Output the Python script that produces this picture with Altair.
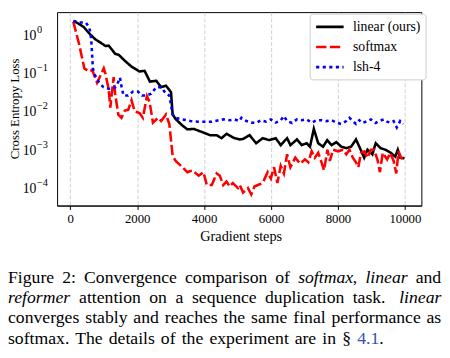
import altair as alt
import pandas as pd

LABELS = ["linear (ours)", "softmax", "lsh-4"]
COLORS = ["#000000", "#ff0000", "#0000ff"]
DASHES = [[1, 0], [10.5, 3.5], [3.2, 3.5]]

linear_steps = [100, 230, 400, 560, 750, 900, 1050, 1150, 1340, 1450, 1630, 1830, 2070, 2220,
                2380, 2570, 2715, 2860, 3010, 3060, 3150, 3350, 3500, 3690, 3935, 4180, 4375,
                4520, 4670, 4910, 5060, 5160, 5360, 5555, 5750, 5945, 6140, 6290, 6480, 6580,
                6775, 6920, 7065, 7165, 7280, 7410, 7555, 7680, 7810, 7955, 8100, 8250, 8395,
                8540, 8640, 8785, 8885, 9030, 9130, 9275, 9420, 9565, 9715, 9790, 9860, 9990]
linear_loss = [2.3, 2.0, 1.6, 1.1, 0.76, 0.63, 0.51, 0.52, 0.32, 0.30, 0.21, 0.148, 0.11, 0.115,
               0.06, 0.063, 0.043, 0.047, 0.032, 0.0083, 0.0063, 0.0043, 0.0034, 0.0035, 0.0029,
               0.0024, 0.0024, 0.0020, 0.0026, 0.0020, 0.00186, 0.0019, 0.0024, 0.00148, 0.0020,
               0.00178, 0.0020, 0.00132, 0.0020, 0.00132, 0.00186, 0.00132, 0.00148, 0.0012,
               0.0035, 0.00148, 0.0012, 0.00178, 0.00132, 0.00158, 0.0012, 0.0011, 0.0012,
               0.00186, 0.0012, 0.00062, 0.0010, 0.00076, 0.00148, 0.0011, 0.0010, 0.00085,
               0.00066, 0.0010, 0.00062, 0.0006]

softmax_steps = [90, 265, 420, 560, 655, 800, 1000, 1045, 1145, 1195, 1295, 1340, 1435, 1530,
                 1630, 1730, 1830, 1925, 2070, 2170, 2290, 2370, 2470, 2620, 2715, 2860, 2960,
                 3060, 3150, 3350, 3500, 3640, 3840, 3980, 4080, 4230, 4375, 4470, 4570, 4670,
                 4765, 4860, 5010, 5065, 5165, 5310, 5410, 5505, 5605, 5750, 5900, 5995, 6090,
                 6190, 6290, 6385, 6480, 6580, 6725, 6870, 7015, 7115, 7215, 7310, 7410, 7510,
                 7585, 7685, 7760, 7855, 8005, 8150, 8250, 8345, 8445, 8540, 8610, 8690, 8790,
                 8885, 8985, 9080, 9180, 9255, 9340, 9470, 9565, 9665, 9745, 9810, 9890, 9960]
softmax_loss = [2.2, 0.56, 0.133, 0.11, 0.12, 0.056, 0.133, 0.1, 0.039, 0.0126, 0.079, 0.029,
                0.0083, 0.0068, 0.0105, 0.011, 0.0195, 0.010, 0.0091, 0.0068, 0.025, 0.0178,
                0.0051, 0.0068, 0.0056, 0.0083, 0.0047, 0.00068, 0.00051, 0.00035, 0.00026,
                0.00029, 0.00021, 0.00026, 0.00012, 0.00012, 0.00024, 0.00021, 0.00012, 0.000148,
                0.00011, 0.000135, 0.0001, 0.00012, 0.000076, 0.0001, 0.000068, 0.00011, 0.00012,
                0.000135, 0.00026, 0.000178, 0.00035, 0.000135, 0.00038, 0.00024, 0.00076,
                0.00035, 0.00062, 0.00043, 0.00056, 0.00047, 0.00091, 0.00062, 0.00083, 0.00047,
                0.00029, 0.001, 0.00051, 0.001, 0.00091, 0.001, 0.00076, 0.001, 0.00062, 0.00047,
                0.00035, 0.00083, 0.00091, 0.00062, 0.001, 0.001, 0.00056, 0.00026, 0.00083,
                0.00056, 0.00083, 0.00051, 0.00024, 0.00091, 0.00062, 0.00056]

lsh_steps = [90, 265, 460, 560, 605, 635, 655, 675, 735, 800, 900, 995, 1145, 1290, 1385, 1485,
             1535, 1590, 1730, 1875, 2020, 2140, 2275, 2420, 2570, 2715, 2860, 2960, 3010, 3060,
             3150, 3350, 3590, 3840, 4230, 4570, 4765, 4910, 5060, 5115, 5265, 5410, 5555, 5700,
             5850, 5995, 6140, 6290, 6385, 6480, 6630, 6775, 6920, 7065, 7215, 7360, 7505, 7660,
             7810, 7955, 8100, 8250, 8345, 8445, 8540, 8640, 8735, 8885, 8985, 9130, 9225, 9375,
             9470, 9565, 9665, 9760, 9860, 9960]
lsh_loss = [2.3, 2.1, 2.1, 1.6, 1.1, 0.56, 0.26, 0.133, 0.091, 0.068, 0.051, 0.043, 0.039, 0.039,
            0.047, 0.076, 0.043, 0.026, 0.026, 0.033, 0.033, 0.026, 0.026, 0.029, 0.043, 0.043,
            0.029, 0.026, 0.0148, 0.0083, 0.0068, 0.0062, 0.0056, 0.0054, 0.0054, 0.0062, 0.0059,
            0.0062, 0.0056, 0.0068, 0.0056, 0.0051, 0.005, 0.0059, 0.0054, 0.0062, 0.0051, 0.0059,
            0.0076, 0.0056, 0.005, 0.0062, 0.0059, 0.0062, 0.0051, 0.0059, 0.0059, 0.0056, 0.0059,
            0.0051, 0.0047, 0.0056, 0.0068, 0.0056, 0.0047, 0.0059, 0.005, 0.0056, 0.0062, 0.005,
            0.0056, 0.0062, 0.0054, 0.0051, 0.0056, 0.0038, 0.0056, 0.0047]

x_ticks = [0, 2000, 4000, 6000, 8000, 10000]
X_DOMAIN = [-395, 10495]
Y_DOMAIN = [3.49e-5, 3.91]
y_ticks = [k * 10.0 ** e for e in range(-5, 1) for k in range(1, 10)]
y_ticks = [v for v in y_ticks if Y_DOMAIN[0] <= v <= Y_DOMAIN[1]]
y_label_values = [1.0, 0.1, 0.01, 0.001, 0.0001]
y_label_base = ["10", "10", "10", "10", "10"]
y_label_exp = ["0", "\u22121", "\u22122", "\u22123", "\u22124"]
Y_TITLE = "Cross Entropy Loss"
X_TITLE = "Gradient steps"

# caption: (line, text, x in reference pixels, italic?, colour)
caption = [
    (0, "Figure", 3.0, False, "black"), (0, "2:", 58.5, False, "black"),
    (0, "Convergence", 81.0, False, "black"), (0, "comparison", 184.5, False, "black"),
    (0, "of", 277.0, False, "black"), (0, "softmax", 300.5, True, "black"),
    (0, ",", 356.5, False, "black"), (0, "linear", 369.5, True, "black"),
    (0, "and", 421.0, False, "black"),
    (1, "reformer", 3.0, True, "black"), (1, "attention", 75.9, False, "black"),
    (1, "on", 147.8, False, "black"), (1, "a", 174.7, False, "black"),
    (1, "sequence", 191.6, False, "black"), (1, "duplication", 266.5, False, "black"),
    (1, "task.", 356.4, False, "black"), (1, "linear", 404.1, True, "black"),
    (2, "converges", 3.0, False, "black"), (2, "stably", 82.25, False, "black"),
    (2, "and", 131.5, False, "black"), (2, "reaches", 163.75, False, "black"),
    (2, "the", 224.0, False, "black"), (2, "same", 252.25, False, "black"),
    (2, "final", 295.5, False, "black"), (2, "performance", 334.75, False, "black"),
    (2, "as", 432.0, False, "black"),
    (3, "softmax.", 3.0, False, "black"), (3, "The", 71.9, False, "black"),
    (3, "details", 106.3, False, "black"), (3, "of", 159.7, False, "black"),
    (3, "the", 181.1, False, "black"), (3, "experiment", 209.5, False, "black"),
    (3, "are", 296.9, False, "black"), (3, "in", 325.3, False, "black"),
    (3, "§", 345.7, False, "black"), (3, "4.1", 361.1, False, "#3a4fb0"),
    (3, ".", 383.6, False, "black"),
]
line_baselines = [285.0, 305.5, 326.0, 346.5]

PLOT_LEFT, PLOT_TOP = 58, 9
W, H = 371, 197
FONT = "Liberation Serif"

rows = []
for name, xs, ys in [(LABELS[0], linear_steps, linear_loss),
                     (LABELS[1], softmax_steps, softmax_loss),
                     (LABELS[2], lsh_steps, lsh_loss)]:
    for s, v in zip(xs, ys):
        rows.append({"series": name, "step": s, "loss": v})
df = pd.DataFrame(rows)

ylab_df = pd.DataFrame({"loss": y_label_values, "base": y_label_base, "exp": y_label_exp})

cap_df = pd.DataFrame([
    {"word": t,
     "px": 8 + (rx - 3) * 441 / 444 - PLOT_LEFT,
     "py": line_baselines[ln] - PLOT_TOP,
     "italic": it, "col": c}
    for ln, t, rx, it, c in caption
])

E = "round(log(datum.value)/LN10)"
IS_MAJOR = f"abs(log(datum.value)/LN10 - {E}) < 0.001"

legend = alt.Legend(
    title=None, orient="none", legendX=257.3, legendY=1.5,
    symbolType="M-1,0H3", symbolSize=196, symbolStrokeWidth=2.6,
    labelFont=FONT, labelFontSize=14, labelColor="black", labelOffset=22,
    padding=5, rowPadding=4.5, strokeColor="#cccccc", fillColor="white",
    cornerRadius=3,
)

y_scale = alt.Scale(type="log", domain=Y_DOMAIN, nice=False)

lines = alt.Chart(df).mark_line(strokeWidth=2.6, clip=True).encode(
    x=alt.X("step:Q", scale=alt.Scale(domain=X_DOMAIN, nice=False, zero=False),
            axis=alt.Axis(values=x_ticks, format="d", title=X_TITLE,
                          labelFont=FONT, labelFontSize=13, labelColor="black",
                          tickSize=4, tickColor="black", labelPadding=3,
                          domainColor="black", grid=True, gridDash=[4, 2],
                          gridColor="#c4c4c4", gridWidth=0.8,
                          titleFont=FONT, titleFontSize=14.5, titleFontWeight="normal",
                          titleColor="black", titleBaseline="alphabetic",
                          titleX=187, titleY=36)),
    y=alt.Y("loss:Q", scale=y_scale,
            axis=alt.Axis(values=y_ticks, labels=False, title=None,
                          tickSize={"condition": {"test": IS_MAJOR, "value": 4}, "value": 2},
                          tickColor="black", domainColor="black",
                          grid=True, gridDash=[4, 2], gridColor="#c4c4c4", gridWidth=0.8,
                          gridOpacity={"condition": {"test": IS_MAJOR, "value": 1}, "value": 0})),
    color=alt.Color("series:N", scale=alt.Scale(domain=LABELS, range=COLORS), legend=legend),
    strokeDash=alt.StrokeDash("series:N", scale=alt.Scale(domain=LABELS, range=DASHES),
                              legend=legend),
)

ylab_base = alt.Chart(ylab_df).mark_text(
    align="left", baseline="middle", font=FONT, fontSize=14, color="black", dy=1
).encode(x=alt.value(-35), y=alt.Y("loss:Q", scale=y_scale, axis=None), text="base:N")

ylab_exp = alt.Chart(ylab_df).mark_text(
    align="left", baseline="middle", font=FONT, fontSize=10.5, color="black", dy=-5
).encode(x=alt.value(-20.5), y=alt.Y("loss:Q", scale=y_scale, axis=None), text="exp:N")

ytitle = alt.Chart(pd.DataFrame({"t": [Y_TITLE]})).mark_text(
    align="center", baseline="middle", font=FONT, fontSize=13, color="black", angle=270
).encode(x=alt.value(-42.5), y=alt.value(H / 2), text="t:N")


def cap_layer(italic):
    return alt.Chart(cap_df).transform_filter(
        f"datum.italic == {'true' if italic else 'false'}"
    ).mark_text(align="left", baseline="alphabetic", font=FONT, fontSize=18,
                fontStyle="italic" if italic else "normal").encode(
        x=alt.X("px:Q", scale=None, axis=None),
        y=alt.Y("py:Q", scale=None, axis=None),
        text="word:N",
        color=alt.Color("col:N", scale=None, legend=None),
    )


chart = alt.layer(lines, ylab_base, ylab_exp, ytitle,
                  cap_layer(False), cap_layer(True)).properties(
    width=W, height=H,
    autosize=alt.AutoSizeParams(type="none"),
    padding={"left": 50, "top": 1, "right": 21, "bottom": 150},
    background="white",
).configure_view(stroke="black", strokeWidth=1)

chart.save("out.html", embed_options={"renderer": "svg", "actions": False})
